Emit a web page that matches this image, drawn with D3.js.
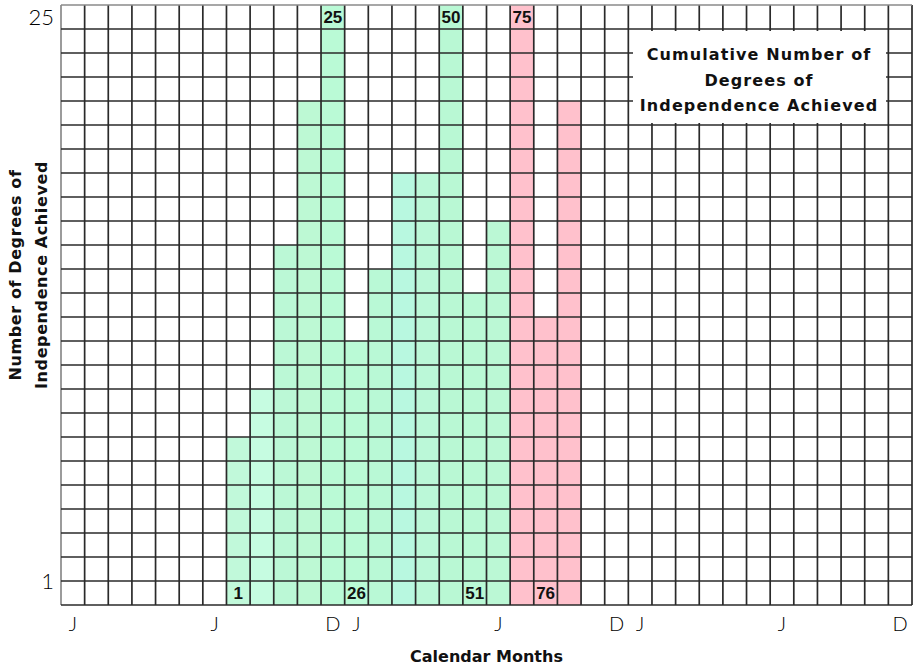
<!DOCTYPE html>
<html>
<head>
<meta charset="utf-8">
<script src="https://cdn.jsdelivr.net/npm/d3@7"></script>
<style>
  html, body { margin: 0; padding: 0; background: #fff; }
  svg { display: block; }
</style>
</head>
<body>
<div id="chart"></div>
<script>
// ---------- data ----------
const monthLabels = ["J","F","M","A","M","J","J","A","S","O","N","D",
                     "J","F","M","A","M","J","J","A","S","O","N","D",
                     "J","F","M","A","M","J","J","A","S","O","N","D"];
const shownTickMonths = [0, 6, 11, 12, 18, 23, 24, 30, 35];
const barMonths  = [7, 8, 9, 10, 11, 12, 13, 14, 15, 16, 17, 18, 19, 20, 21];
const barHeights = [7, 9, 15, 21, 25, 11, 14, 18, 18, 25, 13, 16, 25, 12, 21];
const barPhase   = ["done","done","done","done","done","done","done","done","done","done","done","done","plan","plan","plan"];
const labelMonths = [7, 11, 12, 16, 17, 19, 20];
const labelValues = [1, 25, 26, 50, 51, 75, 76];
const yTickValues = [1, 25];
const yMax = 25;
const legendLines = ["Cumulative Number of", "Degrees of", "Independence Achieved"];
const xTitle = "Calendar Months";
const yTitleLines = ["Number of Degrees of", "Independence Achieved"];

// ---------- styles ----------
const greenShades = ["#c1f9da","#c6fce1","#bbf8d6","#bdf9d4","#bafad6","#bafad6",
                     "#b9f9d6","#b8f8e0","#bbf8d8","#b9f8d4","#baf9d5","#bbf8d5"];
const pink = "#ffc1cc";
const boldFont = "DejaVu Sans, sans-serif";

const W = 917, H = 666;
const svg = d3.select("#chart").append("svg").attr("width", W).attr("height", H);

const x = d3.scaleBand().domain(d3.range(monthLabels.length)).range([61, 912]).padding(0);
const y = d3.scaleLinear().domain([0, yMax]).range([605, 5]);

// bars
svg.append("g").selectAll("rect").data(barMonths).join("rect")
  .attr("x", d => x(d))
  .attr("y", (d, i) => y(barHeights[i]))
  .attr("width", x.bandwidth())
  .attr("height", (d, i) => y(0) - y(barHeights[i]))
  .attr("fill", (d, i) => barPhase[i] === "done" ? greenShades[i % greenShades.length] : pink);

// grid
const grid = svg.append("g");
const vLines = d3.range(monthLabels.length + 1).map(i => i < monthLabels.length ? x(i) : x.range()[1]);
grid.selectAll("line.v").data(vLines).join("line")
  .attr("x1", d => d).attr("x2", d => d)
  .attr("y1", y(yMax)).attr("y2", y(0))
  .attr("stroke", (d, i) => i === 0 ? "#8a8a8a" : "#2a2a2a")
  .attr("stroke-width", 1.7);
grid.selectAll("line.h").data(d3.range(yMax + 1)).join("line")
  .attr("x1", x.range()[0]).attr("x2", x.range()[1])
  .attr("y1", d => y(d)).attr("y2", d => y(d))
  .attr("stroke", d => d === yMax ? "#8a8a8a" : "#2a2a2a")
  .attr("stroke-width", 1.7);

// bar labels
const barHeightOf = m => barHeights[barMonths.indexOf(m)];
svg.append("g").selectAll("text").data(labelValues).join("text")
  .attr("x", (d, i) => x(labelMonths[i]) + x.bandwidth() / 2)
  .attr("y", (d, i) => d % 25 === 0 ? y(barHeightOf(labelMonths[i]) - 0.5) : y(0.5))
  .attr("dy", "0.36em")
  .attr("text-anchor", "middle")
  .attr("font-family", "Liberation Sans, Arial, sans-serif")
  .attr("font-weight", "bold")
  .attr("font-size", 17)
  .attr("fill", "#111")
  .text(d => d);

// legend box
const lg = svg.append("g");
lg.append("rect").attr("x", 633).attr("y", 31).attr("width", 253).attr("height", 92).attr("fill", "#fff");
lg.selectAll("text").data(legendLines).join("text")
  .attr("x", 759)
  .attr("y", (d, i) => 60 + i * 25.5)
  .attr("text-anchor", "middle")
  .attr("font-family", boldFont)
  .attr("font-weight", "bold")
  .attr("font-size", 16)
  .attr("letter-spacing", 1.1)
  .attr("fill", "#111")
  .text(d => d);

// y tick labels
svg.append("g").selectAll("text").data(yTickValues).join("text")
  .attr("x", 54)
  .attr("y", d => d === yMax ? y(d) + 12 : y(d))
  .attr("dy", "0.36em")
  .attr("text-anchor", "end")
  .attr("font-family", "Lato, DejaVu Sans, sans-serif")
  .attr("font-weight", 300)
  .attr("font-size", 22)
  .attr("fill", "#000")
  .text(d => d);

// x tick labels
svg.append("g").selectAll("text").data(shownTickMonths).join("text")
  .attr("x", d => x(d) + x.bandwidth() / 2)
  .attr("y", 624)
  .attr("dy", "0.36em")
  .attr("text-anchor", "middle")
  .attr("font-family", "Lato, DejaVu Sans, sans-serif")
  .attr("font-weight", 300)
  .attr("font-size", 20)
  .attr("fill", "#000")
  .text(d => monthLabels[d]);

// axis titles
svg.append("text")
  .attr("x", (x.range()[0] + x.range()[1]) / 2)
  .attr("y", 662)
  .attr("text-anchor", "middle")
  .attr("font-family", boldFont)
  .attr("font-weight", "bold")
  .attr("font-size", 16)
  .attr("fill", "#111")
  .text(xTitle);

svg.append("g").attr("transform", "translate(0,275) rotate(-90)")
  .selectAll("text").data(yTitleLines).join("text")
  .attr("x", 0)
  .attr("y", (d, i) => 21 + i * 26)
  .attr("text-anchor", "middle")
  .attr("font-family", boldFont)
  .attr("font-weight", "bold")
  .attr("font-size", 16)
  .attr("letter-spacing", 0.6)
  .attr("fill", "#111")
  .text(d => d);
</script>
</body>
</html>
